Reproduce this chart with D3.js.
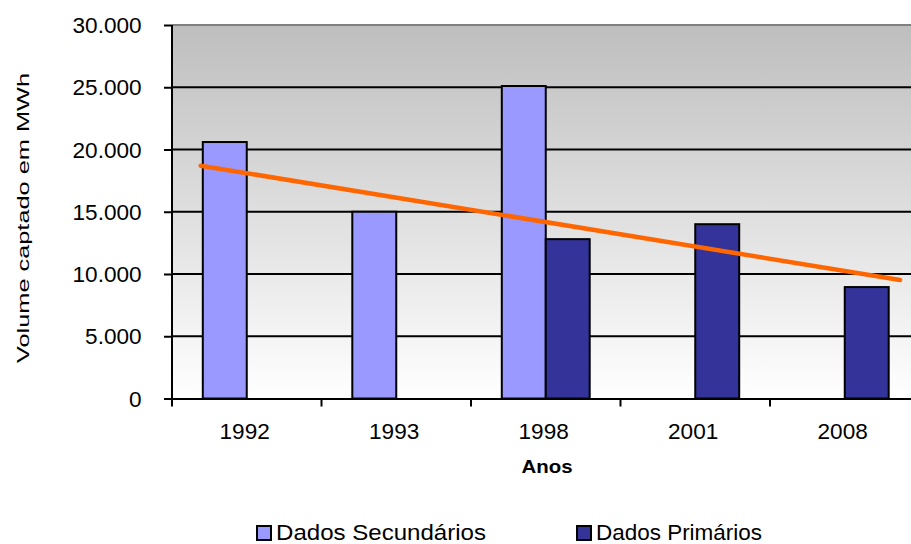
<!DOCTYPE html>
<html>
<head>
<meta charset="utf-8">
<script src="https://cdn.jsdelivr.net/npm/d3@7"></script>
<style>
  html, body { margin: 0; padding: 0; background: #ffffff; }
  svg { display: block; font-family: "Liberation Sans", Arial, sans-serif; }
</style>
</head>
<body>
<svg id="chart" width="911" height="544"></svg>
<script>
// Volume captado (MWh) por ano
const years = ["1992", "1993", "1998", "2001", "2008"];
const seriesNames = ["Dados Secundários", "Dados Primários"];
const secundarios = [20600, 15000, 25100, null, null];
const primarios = [null, null, 12800, 14000, 8950];
const seriesColors = ["#9999FF", "#333399"];
const yTicks = [0, 5000, 10000, 15000, 20000, 25000, 30000];
// linear trend line, positions in category units (0 = first category centre)
const trendPos = [-0.308, 4.37];
const trendValues = [18700, 9520];

const svg = d3.select("#chart");
const plotLeft = 172, plotTop = 25, plotBottom = 398.5, bandStep = 149.5;
const plotRight = plotLeft + bandStep * years.length;

const x0 = d3.scaleBand().domain(years).range([plotLeft, plotRight]).paddingInner(0).paddingOuter(0);
const bw = x0.bandwidth();
const x1 = d3.scaleBand().domain(seriesNames).range([bw * 0.206, bw * 0.794]);
const y = d3.scaleLinear().domain([0, 30000]).range([plotBottom, plotTop]);
const xPos = d3.scaleLinear().domain([0, 1]).range([plotLeft + bw / 2, plotLeft + bw * 1.5]);

// plot background gradient
const defs = svg.append("defs");
const grad = defs.append("linearGradient").attr("id", "bg").attr("x1", 0).attr("y1", 0).attr("x2", 0).attr("y2", 1);
grad.append("stop").attr("offset", "0%").attr("stop-color", "#bebebe");
grad.append("stop").attr("offset", "100%").attr("stop-color", "#ffffff");
svg.append("rect").attr("x", plotLeft).attr("y", y(30000)).attr("width", plotRight - plotLeft)
  .attr("height", y(0) - y(30000)).attr("fill", "url(#bg)");

// gridlines
svg.append("g").selectAll("line").data(yTicks.filter(d => d > 0)).join("line")
  .attr("x1", plotLeft).attr("x2", plotRight)
  .attr("y1", d => y(d)).attr("y2", d => y(d))
  .attr("stroke", d => d === 30000 ? "#808080" : "#000000")
  .attr("stroke-width", 2);

// bars
const data = [secundarios, primarios];
const gBars = svg.append("g");
years.forEach((yr, i) => {
  seriesNames.forEach((s, k) => {
    const v = data[k][i];
    if (v == null) return;
    gBars.append("rect")
      .attr("x", x0(yr) + x1(s))
      .attr("y", y(v))
      .attr("width", x1.bandwidth())
      .attr("height", y(0) - y(v))
      .attr("fill", seriesColors[k])
      .attr("stroke", "#000000")
      .attr("stroke-width", 2);
  });
});

// trend line
svg.append("path")
  .datum(trendPos.map((p, i) => [p, trendValues[i]]))
  .attr("d", d3.line().x(d => xPos(d[0])).y(d => y(d[1])))
  .attr("fill", "none")
  .attr("stroke", "#FF6600")
  .attr("stroke-width", 4.5)
  .attr("stroke-linecap", "round");

// y axis
const fmt = d => d === 0 ? "0" : d3.format(",")(d).replace(/,/g, ".");
const yAxis = svg.append("g").attr("transform", `translate(${plotLeft},0)`)
  .call(d3.axisLeft(y).tickValues(yTicks).tickFormat(fmt).tickSize(8).tickPadding(21));
yAxis.select(".domain").attr("stroke", "#000").attr("stroke-width", 2).attr("d", `M0,${y(0)}V${y(30000)}`);
yAxis.selectAll(".tick line").attr("stroke", "#000").attr("stroke-width", 2);
yAxis.selectAll(".tick text").attr("font-size", 21.5).attr("fill", "#000")
  .attr("font-family", "Liberation Sans, Arial, sans-serif").attr("dy", "0.36em")
  .attr("transform", "scale(1.05,1)");

// x axis
const xAxis = svg.append("g").attr("transform", `translate(0,${y(0)})`)
  .call(d3.axisBottom(x0).tickSize(0).tickPadding(25));
xAxis.select(".domain").attr("stroke", "#000").attr("stroke-width", 2);
xAxis.selectAll(".tick text").attr("font-size", 21.5).attr("fill", "#000")
  .attr("font-family", "Liberation Sans, Arial, sans-serif").attr("dx", -2)
  .attr("transform", "scale(1.05,1)");
// tick marks between categories
svg.append("g").selectAll("line").data(d3.range(years.length + 1)).join("line")
  .attr("x1", i => plotLeft + i * bandStep).attr("x2", i => plotLeft + i * bandStep)
  .attr("y1", y(0)).attr("y2", y(0) + 8)
  .attr("stroke", "#000").attr("stroke-width", 2);

// axis titles
svg.append("text").attr("x", 547).attr("y", 473)
  .attr("text-anchor", "middle").attr("font-size", 18).attr("font-weight", "bold")
  .attr("textLength", 51).attr("lengthAdjust", "spacingAndGlyphs")
  .text("Anos");
svg.append("text").attr("transform", "translate(29,218) rotate(-90)")
  .attr("text-anchor", "middle").attr("font-size", 17)
  .attr("textLength", 290).attr("lengthAdjust", "spacingAndGlyphs")
  .text("Volume captado em MWh");

// legend
const legendX = [257, 577];
const legendW = [210, 166];
const lg = svg.append("g");
seriesNames.forEach((s, k) => {
  lg.append("rect").attr("x", legendX[k]).attr("y", 526).attr("width", 14).attr("height", 14)
    .attr("fill", seriesColors[k]).attr("stroke", "#000").attr("stroke-width", 2);
  lg.append("text").attr("x", legendX[k] + 19).attr("y", 540)
    .attr("font-size", 21.5).attr("textLength", legendW[k]).attr("lengthAdjust", "spacingAndGlyphs")
    .text(s);
});
</script>
</body>
</html>
